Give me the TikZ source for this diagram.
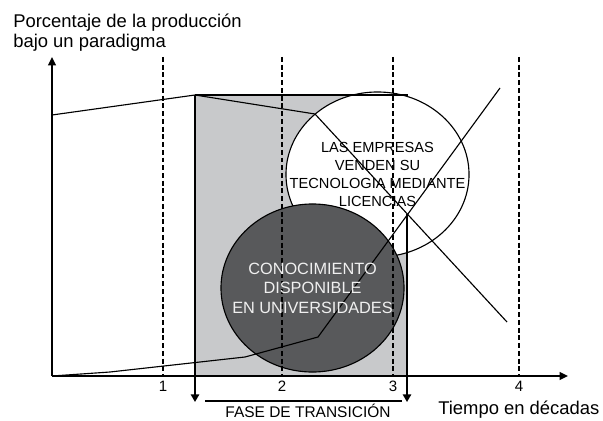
\documentclass[tikz,border=0pt]{standalone}
\usepackage{fontspec}
\setmainfont{Liberation Sans}
\usetikzlibrary{arrows.meta,shapes.geometric}
\definecolor{grisfase}{RGB}{200,201,203}
\definecolor{grisosc}{RGB}{88,89,91}
\tikzset{eje/.style={line width=1.8pt,-{Triangle[length=6pt,width=5.5pt]}},
  decada/.style={line width=1.3pt,dash pattern=on 3.5pt off 2pt},
  curva/.style={line width=0.8pt},
  limite/.style={line width=1.2pt,-{Triangle[length=5.5pt,width=6pt]}},
  elipse/.style={ellipse,draw,line width=0.8pt,inner sep=0pt},
  rotulo/.style={inner sep=0pt}}

\begin{document}
\begin{tikzpicture}[x=0.025cm,y=-0.025cm]
\useasboundingbox (0,0) rectangle (603,420);
% puntos
\coordinate (O) at (52,376);
\coordinate (ytop) at (52,57);
\coordinate (xend) at (568,376);
\coordinate (a0) at (52,115);
\coordinate (a1) at (195,95);
\coordinate (a2) at (315,114);
\coordinate (a3) at (507,322);
\coordinate (b1) at (110,372);
\coordinate (b2) at (245,357);
\coordinate (b3) at (318,337);
\coordinate (b4) at (500,88);
\coordinate (cruce) at (407,214);
\coordinate (fin) at (408,95);
% fase de transicion
\fill[grisfase] (a1) rectangle (407,376);
\node[elipse,fill=white,minimum width=4.575cm,minimum height=4.125cm] (licencias) at (377.5,174.5) {};
\node[elipse,fill=grisosc,minimum width=4.575cm,minimum height=4.2cm] (conocimiento) at (312.5,288) {};
% curvas
\draw[curva] (a0) -- (a1) -- (a2) -- (a3);
\draw[curva] (O) -- (b1) -- (b2) -- (b3) -- (b4);
\foreach \x/\n in {163/1,282/2,393/3,519/4}{
  \draw[decada] (\x,57) -- (\x,376);
  \node[rotulo,anchor=base,font=\fontsize{10.7}{12}\selectfont] (d\n) at (\x,391) {\n};
}
\draw[curva] (a1) -- (fin);
\draw[limite] (a1) -- (195,402);
\draw[limite] (cruce) -- (407,402);
\draw[line width=1pt] (205,401) -- (402,401);
% ejes
\draw[eje] (O) -- (ytop);
\draw[eje] (O) -- (xend);
% textos
\node[rotulo,align=center,font=\fontsize{10.4}{12.6}\selectfont] at (licencias) {LAS EMPRESAS\\VENDEN SU\\TECNOLOGIA MEDIANTE\\LICENCIAS};
\node[rotulo,align=center,text=white!94!black,font=\fontsize{11.6}{13.8}\selectfont] at (conocimiento) {CONOCIMIENTO\\DISPONIBLE\\EN UNIVERSIDADES};
\node[rotulo,anchor=base west,font=\fontsize{13.1}{15.7}\selectfont] (titulo1) at (13,28) {Porcentaje de la producción};
\node[rotulo,anchor=base west,font=\fontsize{13.1}{15.7}\selectfont] (titulo2) at (13,48) {bajo un paradigma};
\node[rotulo,anchor=base west,font=\fontsize{13.1}{15.7}\selectfont] (tiempo) at (438,414) {Tiempo en décadas};
\node[rotulo,anchor=base,font=\fontsize{11}{13}\selectfont] (fase) at (308,417) {FASE DE TRANSICIÓN};
\end{tikzpicture}
\end{document}
